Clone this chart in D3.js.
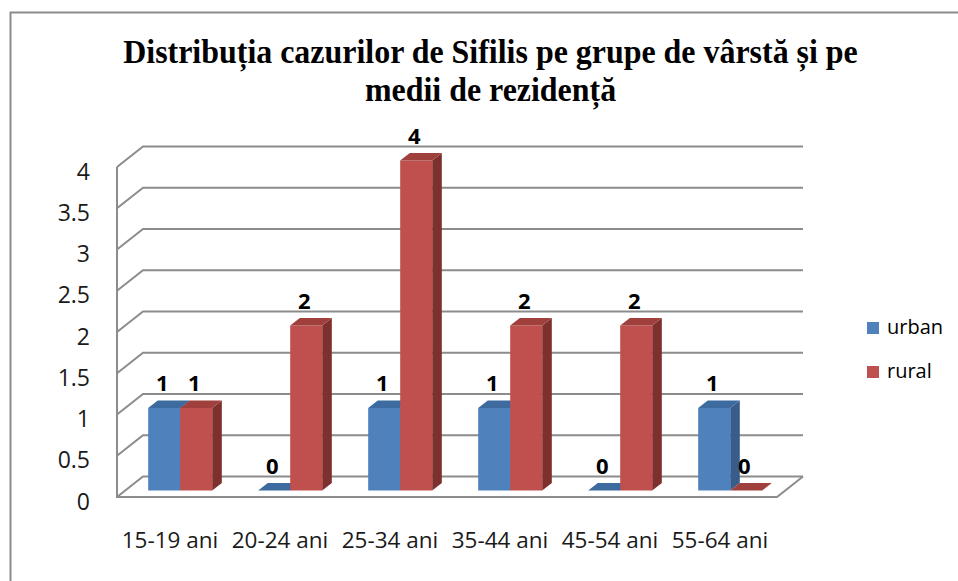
<!DOCTYPE html>
<meta charset="utf-8">
<style>
body { margin: 0; background: #fff; }
svg { display: block; background: #fff; }
.grid { stroke: #8c8c8c; stroke-width: 2; fill: none; }
.tick-label { font-family: "Open Sans", sans-serif; font-size: 22.5px; fill: #1a1a1a; }
.y-label { font-size: 23px; }
.value-label { font-family: "Open Sans", sans-serif; font-size: 22px; font-weight: bold; fill: #000; }
.legend-label { font-family: "Open Sans", sans-serif; font-size: 20px; fill: #000; }
.title { font-family: "Liberation Serif", serif; font-size: 34px; font-weight: bold; fill: #000; }
</style>
<body>
<svg id="chart"></svg>

<script src="https://d3js.org/d3.v7.min.js"></script>
<script>

var categories = ["15-19 ani", "20-24 ani", "25-34 ani", "35-44 ani", "45-54 ani", "55-64 ani"];
var series = ["urban", "rural"];
var urban = [1, 0, 1, 1, 0, 1];
var rural = [1, 2, 4, 2, 2, 0];
var yTicks = [0, 0.5, 1, 1.5, 2, 2.5, 3, 3.5, 4];
var titleLines = ["Distribuția cazurilor de Sifilis pe grupe de vârstă și pe", "medii de rezidență"];

var width = 958, height = 581;

// colours: front, top, side
var colors = {
  urban: ["#4f81bd", "#3d6a9f", "#385d8a"],
  rural: ["#c0504d", "#a0403d", "#7d302e"]
};

var svg = d3.select("#chart")
    .attr("width", width)
    .attr("height", height);

// outer frame (only top and left show)
svg.append("path")
  .attr("d", "M10.5," + height + "V12.5H" + width)
  .attr("fill", "none")
  .attr("stroke", "#8c8c8c")
  .attr("stroke-width", 2);

// 3d depth of the box
var depthX = 26, depthY = -20.5;
function P(x, y, d) { return [x + d * depthX, y + d * depthY]; }

var x = d3.scaleBand()
    .domain(categories)
    .range([117, 777])
    .paddingInner(0.418)
    .paddingOuter(0.209);

var x1 = d3.scaleBand()
    .domain(series)
    .range([0, x.bandwidth()]);

var y = d3.scaleLinear()
    .domain([0, 4])
    .range([497, 167]);

var x0 = x.range()[0], xEnd = x.range()[1];

// gridlines: left wall slant + back wall line
var grid = svg.append("g");
yTicks.forEach(function(t) {
  var a = P(x0, y(t), 0), b = P(x0, y(t), 1), c = P(xEnd, y(t), 1);
  grid.append("path")
    .attr("class", "grid")
    .attr("d", "M" + a + "L" + b + "L" + c);
});

// front vertical axis + floor edges
grid.append("path")
  .attr("class", "grid")
  .attr("d", "M" + P(x0, y(4), 0) + "L" + P(x0, y(0), 0) + "L" + P(xEnd, y(0), 0) + "L" + P(xEnd, y(0), 1));

// y tick labels
svg.append("g").selectAll("text")
  .data(yTicks)
  .enter().append("text")
    .attr("class", "tick-label y-label")
    .attr("x", 90)
    .attr("y", function(d) { return y(d) + 3.5; })
    .attr("text-anchor", "end")
    .attr("dominant-baseline", "central")
    .text(function(d) { return d; });

// x tick labels
svg.append("g").selectAll("text")
  .data(categories)
  .enter().append("text")
    .attr("class", "tick-label")
    .attr("x", function(d) { return x(d) + x.bandwidth() / 2 - 2; })
    .attr("y", 548)
    .attr("text-anchor", "middle")
    .text(function(d) { return d; });

// bars
var d0 = 0.315, d1 = 0.685;
var bars = [];
categories.forEach(function(c, i) {
  bars.push({cat: c, s: "urban", v: urban[i]});
  bars.push({cat: c, s: "rural", v: rural[i]});
});

function poly(pts) { return "M" + pts.join("L") + "Z"; }

var barG = svg.append("g");
bars.forEach(function(b) {
  var xl = x(b.cat) + x1(b.s), xr = xl + x1.bandwidth();
  var yb = y(0), yt = y(b.v);
  var col = colors[b.s];
  var g = barG.append("g");
  if (b.v > 0) {
    // side face
    g.append("path")
      .attr("d", poly([P(xr, yt, d0), P(xr, yt, d1), P(xr, yb, d1), P(xr, yb, d0)]))
      .attr("fill", col[2]);
    // front face
    g.append("path")
      .attr("d", poly([P(xl, yt, d0), P(xr, yt, d0), P(xr, yb, d0), P(xl, yb, d0)]))
      .attr("fill", col[0]);
  }
  // top face
  g.append("path")
    .attr("d", poly([P(xl, yt, d0), P(xr, yt, d0), P(xr, yt, d1), P(xl, yt, d1)]))
    .attr("fill", col[1]);

  var lp = P((xl + xr) / 2 - 2, yt - 17, d0);
  svg.append("text")
    .attr("class", "value-label")
    .attr("x", lp[0])
    .attr("y", lp[1])
    .attr("text-anchor", "middle")
    .text(b.v);
});

// legend
var legend = svg.append("g").selectAll("g")
  .data(series)
  .enter().append("g")
    .attr("transform", function(d, i) { return "translate(867," + (322 + i * 44) + ")"; });

legend.append("rect")
  .attr("width", 12)
  .attr("height", 12)
  .attr("fill", function(d) { return colors[d][0]; });

legend.append("text")
  .attr("class", "legend-label")
  .attr("x", 20)
  .attr("y", 12)
  .text(function(d) { return d; });

// title, squeezed horizontally like the original
var titleG = svg.append("g");
var tl = titleG.selectAll("text")
  .data(titleLines)
  .enter().append("text")
    .attr("class", "title")
    .attr("x", 0)
    .attr("y", function(d, i) { return 63 + i * 38; })
    .attr("text-anchor", "middle")
    .text(function(d) { return d; });

var w1 = tl.node().getComputedTextLength();
titleG.attr("transform", "translate(490.5,0) scale(" + (735 / w1) + ",1)");

</script>
</body>
